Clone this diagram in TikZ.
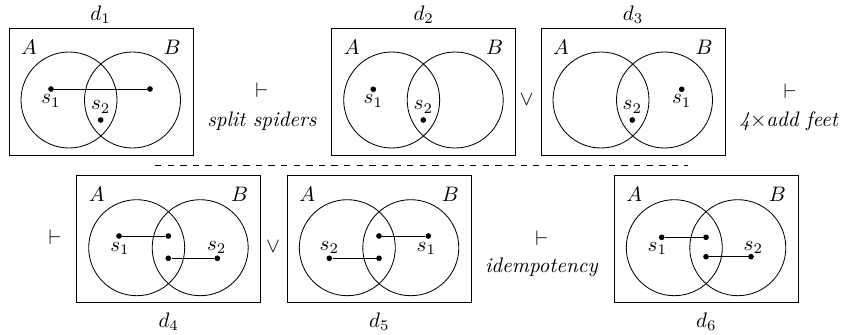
\documentclass[tikz,border=0pt]{standalone}
\begin{document}
\begin{tikzpicture}[x=0.476pt,y=-0.476pt,
  frame/.style={draw, rectangle, inner sep=0pt, minimum width=87.6pt, minimum height=60.45pt},
  ring/.style={draw, circle, inner sep=0pt, minimum size=45.7pt},
  spot/.style={fill, circle, inner sep=0pt, minimum size=2.7pt},
  leg/.style={line width=0.45pt},
  txt/.style={inner sep=0pt}]
\useasboundingbox (0,0) rectangle (841,334);
\newcommand\vennframe[3]{%
  \begin{scope}[shift={(#2,#3)}]
    \node[frame] (#1) at (92,63.5) {};
    \node[ring] (#1A) at (60,72) {};
    \node[ring] (#1B) at (123.5,72) {};
    \node[txt] (#1la) at (20,19) {$A$};
    \node[txt] (#1lb) at (163,19) {$B$};
  \end{scope}}
% d1
\vennframe{f1}{9}{28}
\begin{scope}[shift={(9,28)}]
  \node[spot] (f1p) at (42,61) {};
  \node[spot] (f1q) at (141,61) {};
  \node[spot] (f1r) at (91.7,92) {};
  \node[txt] (f1s1) at (42,73) {$s_1$};
  \node[txt] (f1s2) at (91.7,79) {$s_2$};
  \draw[leg] (f1p) -- (f1q);
\end{scope}
\node[txt] (f1n) at (100.5,15) {$d_1$};
% d2
\vennframe{f2}{331.7}{28}
\begin{scope}[shift={(331.7,28)}]
  \node[spot] (f2p) at (41.6,61.3) {};
  \node[spot] (f2r) at (91.6,92) {};
  \node[txt] (f2s1) at (41.6,73) {$s_1$};
  \node[txt] (f2s2) at (91.6,79) {$s_2$};
\end{scope}
\node[txt] (f2n) at (423.7,15) {$d_2$};
% d3
\vennframe{f3}{541}{28}
\begin{scope}[shift={(541,28)}]
  \node[spot] (f3p) at (140.7,61.3) {};
  \node[spot] (f3r) at (91.3,92) {};
  \node[txt] (f3s1) at (140.7,73) {$s_1$};
  \node[txt] (f3s2) at (91.3,79) {$s_2$};
\end{scope}
\node[txt] (f3n) at (633,15) {$d_3$};
% d4
\vennframe{f4}{76.7}{175.7}
\begin{scope}[shift={(76.7,175.7)}]
  \node[spot] (f4a) at (42.3,60.3) {};
  \node[spot] (f4b) at (91.6,60.3) {};
  \node[spot] (f4c) at (91.6,82.6) {};
  \node[spot] (f4d) at (140.6,82.6) {};
  \draw[leg] (f4a) -- (f4b);
  \draw[leg] (f4c) -- (f4d);
  \node[txt] (f4s1) at (43.3,72.6) {$s_1$};
  \node[txt] (f4s2) at (140,71.6) {$s_2$};
\end{scope}
\node[txt] (f4n) at (168.7,321.7) {$d_4$};
% d5
\vennframe{f5}{287.3}{175.7}
\begin{scope}[shift={(287.3,175.7)}]
  \node[spot] (f5a) at (91.7,60.3) {};
  \node[spot] (f5b) at (141,60.3) {};
  \node[spot] (f5c) at (42,82.6) {};
  \node[spot] (f5d) at (91.7,82.6) {};
  \draw[leg] (f5a) -- (f5b);
  \draw[leg] (f5c) -- (f5d);
  \node[txt] (f5s1) at (139,72.6) {$s_1$};
  \node[txt] (f5s2) at (42,71.6) {$s_2$};
\end{scope}
\node[txt] (f5n) at (379.3,321.7) {$d_5$};
% d6
\vennframe{f6}{614.3}{175.7}
\begin{scope}[shift={(614.3,175.7)}]
  \node[spot] (f6a) at (47.4,61.6) {};
  \node[spot] (f6b) at (91.7,61.6) {};
  \node[spot] (f6c) at (91.7,81) {};
  \node[spot] (f6d) at (136.7,81) {};
  \draw[leg] (f6a) -- (f6b);
  \draw[leg] (f6c) -- (f6d);
  \node[txt] (f6s1) at (43,72.6) {$s_1$};
  \node[txt] (f6s2) at (139,71.6) {$s_2$};
\end{scope}
\node[txt] (f6n) at (706.3,321.7) {$d_6$};
% relations
\node[txt] (t1) at (261.7,90) {$\vdash$};
\node[txt] (t1l) at (262,121) {\textit{split spiders}};
\node[txt] (o1) at (526.7,100) {$\vee$};
\node[txt] (t2) at (790,91) {$\vdash$};
\node[txt] (t2l) at (789,121) {\textit{4}$\times$\textit{add feet}};
\node[txt] (t3) at (55,237) {$\vdash$};
\node[txt] (o2) at (273,247) {$\vee$};
\node[txt] (t4) at (541.7,238) {$\vdash$};
\node[txt] (t4l) at (541.7,267) {\textit{idempotency}};
\coordinate (dl) at (155,165);
\coordinate (dr) at (688,165);
\draw[dashed] (dl) -- (dr);
\end{tikzpicture}
\end{document}
